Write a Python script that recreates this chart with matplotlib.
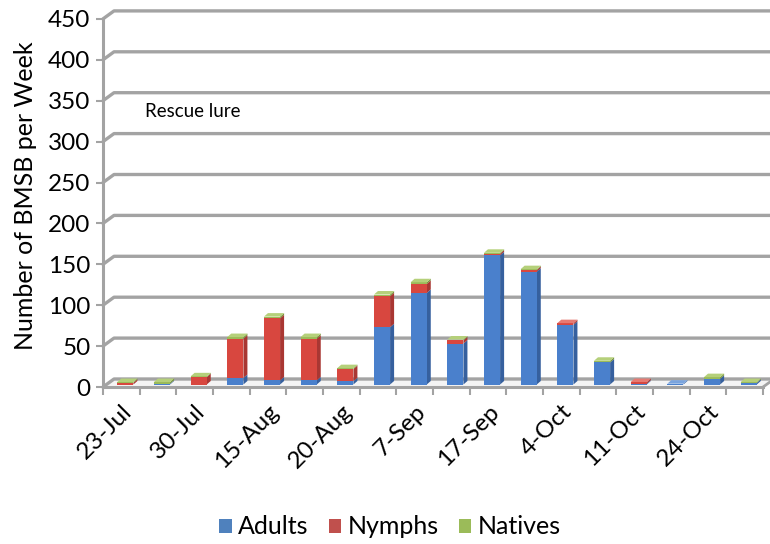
import matplotlib
matplotlib.use("Agg")
import matplotlib.pyplot as plt
from matplotlib.patches import Polygon, Patch
import numpy as np

plt.rcParams['font.family'] = ['Lato', 'DejaVu Sans']

# ---- data ----
labels = ["23-Jul", "", "30-Jul", "", "15-Aug", "", "20-Aug", "", "7-Sep", "",
          "17-Sep", "", "4-Oct", "", "11-Oct", "", "24-Oct", ""]
adults = [0, 1, 0, 8, 5, 5, 4, 70, 112, 50, 158, 138, 73, 27, 1, 1, 7, 2]
nymphs = [2, 0, 9, 48, 76, 51, 15, 38, 11, 4, 2, 2, 2, 0, 2, 0, 0, 0]
natives = [1, 2, 1, 2, 2, 2, 1, 2, 2, 1, 1, 1, 0, 2, 0, 0, 2, 1]
series_names = ["Adults", "Nymphs", "Natives"]
yticks = [0, 50, 100, 150, 200, 250, 300, 350, 400, 450]

front_cols = ["#4A80CC", "#D8473F", "#9BBB59"]
side_cols = ["#36609E", "#A93733", "#779439"]
top_cols = ["#7AA4DE", "#E67A72", "#B5D07A"]
legend_cols = ["#4F81BD", "#C0504D", "#9BBB59"]

W, H = 770, 544
fig = plt.figure(figsize=(W / 100, H / 100), dpi=100)
left_px, right_px, bottom_px, top_px = 103, 770, 387, 5
ax = fig.add_axes([left_px / W, 1 - bottom_px / H, (right_px - left_px) / W, (bottom_px - top_px) / H])

n = len(adults)
PXX = 36.67  # px per x unit
PXY = 0.818  # px per y unit
ax.set_xlim(-0.5, -0.5 + (right_px - left_px) / PXX)
ax.set_ylim(0, (bottom_px - top_px) / PXY)

dxw, dyw = 11 / PXX, 8 / PXY      # back wall offset
dxs, dys = 4 / PXX, 3.5 / PXY     # bar depth
bx, by = 4 / PXX, 2.5 / PXY       # bar placement inside the floor
grid_c = "#A3A3A3"

# floor
ax.add_patch(Polygon([(-0.5, 0), (-0.5 + dxw, dyw), (17.5 + dxw, dyw), (17.5, 0)],
                     closed=True, facecolor="#F4F4F4", edgecolor="none", zorder=1))
for v in yticks:
    ax.plot([-0.5, -0.5 + dxw, 17.5 + dxw], [v, v + dyw, v + dyw], color=grid_c,
            lw=2.4, solid_capstyle="round", zorder=1, clip_on=False)
ax.plot([17.5, 17.5 + dxw], [0, dyw], color=grid_c, lw=2.0, zorder=1, clip_on=False)

x = np.arange(n) + bx
w = 0.44
data = [np.array(adults, float), np.array(nymphs, float), np.array(natives, float)]
bottom = np.zeros(n) + by
for k, vals in enumerate(data):
    ax.bar(x, vals, bottom=bottom, width=w, color=front_cols[k], edgecolor="none", zorder=3)
    for i in range(n):
        if vals[i] > 0:
            b = bottom[i]
            xr = x[i] + w / 2
            ax.add_patch(Polygon([(xr, b), (xr + dxs, b + dys), (xr + dxs, b + vals[i] + dys), (xr, b + vals[i])],
                                 closed=True, facecolor=side_cols[k], edgecolor="none", zorder=2.9))
    bottom = bottom + vals

# top faces
for i in range(n):
    T = bottom[i]
    topk = 0
    for k in range(3):
        if data[k][i] > 0:
            topk = k
    xl = x[i] - w / 2
    xr = x[i] + w / 2
    ax.add_patch(Polygon([(xl, T), (xl + dxs, T + dys), (xr + dxs, T + dys), (xr, T)],
                         closed=True, facecolor=top_cols[topk], edgecolor="none", zorder=3.1))

for s in ["top", "right"]:
    ax.spines[s].set_visible(False)
ax.spines["left"].set_bounds(0, 450)
ax.spines["bottom"].set_bounds(-0.5, 17.5)
for s in ["left", "bottom"]:
    ax.spines[s].set_color(grid_c)
    ax.spines[s].set_linewidth(2.2)

ax.set_yticks(yticks)
ax.set_yticklabels([str(t) for t in yticks], fontsize=17.5)
ax.tick_params(axis="y", length=5, width=1.5, color=grid_c, pad=4)

ticks_x = np.arange(n)[::2]
ax.set_xticks(ticks_x)
ax.set_xticklabels([l for l in labels[::2]], fontsize=17.5, rotation=45, ha="right",
                   rotation_mode="anchor")
ax.set_xticks(np.arange(-0.5, 18, 1.0), minor=True)
ax.tick_params(axis="x", which="major", length=0, pad=10)
ax.tick_params(axis="x", which="minor", length=6, width=1.5, color=grid_c)

ax.set_ylabel("Number of BMSB per Week", fontsize=18, labelpad=8)
ax.text(0.65, 330, "Rescue lure", fontsize=13.5)

handles = [Patch(facecolor=c) for c in legend_cols]
fig.legend(handles, series_names, loc="center", bbox_to_anchor=(390 / W, 1 - 527 / H), ncol=3,
           frameon=False, fontsize=18, handlelength=0.5, handleheight=0.5, handletextpad=0.25,
           columnspacing=0.8)

fig.savefig("out.png", dpi=100)
